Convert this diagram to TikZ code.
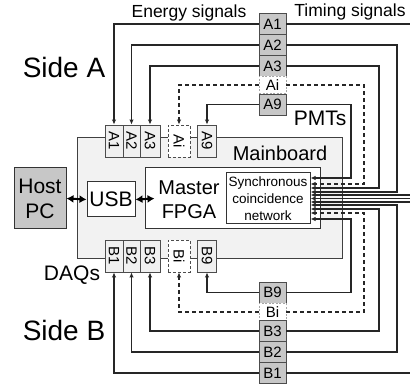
\documentclass[tikz,border=0pt]{standalone}
\usepackage{fontspec}
\setmainfont{Liberation Sans}
\usetikzlibrary{arrows.meta}
\begin{document}
\begin{tikzpicture}[x=1pt,y=-1pt,
  ln/.style={draw=black!85,line width=1.1pt},
  dln/.style={ln,dash pattern=on 4pt off 3pt},
  tip/.style={-{Latex[length=5pt,width=4.5pt]}},
  dbl/.style={draw=black,line width=2pt,{Latex[length=7pt,width=8pt]}-{Latex[length=7pt,width=8pt]}},
  pmt/.style={draw=black!70,fill=black!22,line width=0.9pt,minimum width=27pt,inner sep=0pt,font=\fontsize{15}{15}\selectfont},
  pmtd/.style={pmt,draw=black!35,fill=white,dash pattern=on 2pt off 1.5pt},
  daq/.style={draw=black!70,fill=black!6,line width=0.9pt,minimum height=32pt,inner sep=0pt,font=\fontsize{15}{15}\selectfont},
  daqd/.style={daq,fill=white,dash pattern=on 3pt off 2pt},
  box/.style={draw=black!80,line width=1pt,inner sep=0pt},
  lbl/.style={inner sep=0pt}
]
\fill[white] (0,0) rectangle (410,390);
\clip (0,0) rectangle (410,390);

% mainboard
\node[draw=black!75,fill=black!5,line width=1pt,minimum width=265pt,minimum height=121pt,inner sep=0pt] (mb) at (209.5,198.5) {};
\node[lbl,font=\fontsize{20}{20}\selectfont] (mbl) at (280,153) {Mainboard};

% labels
\node[lbl,font=\fontsize{28}{28}\selectfont] (sideA) at (64,67) {Side A};
\node[lbl,font=\fontsize{28}{28}\selectfont] (sideB) at (64,330) {Side B};
\node[lbl,font=\fontsize{17.5}{17.5}\selectfont] (energy) at (189,13) {Energy signals};
\node[lbl,font=\fontsize{17.5}{17.5}\selectfont] (timing) at (350,12) {Timing signals};
\node[lbl,font=\fontsize{21}{21}\selectfont] (pmts) at (320,118) {PMTs};
\node[lbl,font=\fontsize{21}{21}\selectfont] (daqs) at (72,275) {DAQs};

% PMT boxes side A
\node[pmt,minimum height=21pt] (pA1) at (272.5,24) {A1};
\node[pmt,minimum height=21pt] (pA2) at (272.5,45) {A2};
\node[pmt,minimum height=21pt] (pA3) at (272.5,66) {A3};
\node[pmtd,minimum height=17pt] (pAi) at (272.5,85) {Ai};
\node[pmt,minimum height=21pt] (pA9) at (272.5,104.5) {A9};
% PMT boxes side B
\node[pmt,minimum height=21pt] (pB9) at (272.5,292.5) {B9};
\node[pmtd,minimum height=17pt] (pBi) at (272.5,312) {Bi};
\node[pmt,minimum height=21pt] (pB3) at (272.5,331) {B3};
\node[pmt,minimum height=21pt] (pB2) at (272.5,352) {B2};
\node[pmt,minimum height=21pt] (pB1) at (272.5,373) {B1};

% DAQ boxes
\node[daq,minimum width=18pt] (dA1) at (114,141) {\rotatebox{-90}{A1}};
\node[daq,minimum width=17pt] (dA2) at (131.5,141) {\rotatebox{-90}{A2}};
\node[daq,minimum width=20pt] (dA3) at (150,141) {\rotatebox{-90}{A3}};
\node[daqd,minimum width=22pt] (dAi) at (179,141) {\rotatebox{-90}{Ai}};
\node[daq,minimum width=19pt] (dA9) at (207,141) {\rotatebox{-90}{A9}};
\node[daq,minimum width=18pt] (dB1) at (114,256) {\rotatebox{-90}{B1}};
\node[daq,minimum width=17pt] (dB2) at (131.5,256) {\rotatebox{-90}{B2}};
\node[daq,minimum width=20pt] (dB3) at (150,256) {\rotatebox{-90}{B3}};
\node[daqd,minimum width=22pt] (dBi) at (179,256) {\rotatebox{-90}{Bi}};
\node[daq,minimum width=19pt] (dB9) at (207,256) {\rotatebox{-90}{B9}};

% energy lines
\draw[ln,tip] (pA1.west) -| (dA1.north);
\draw[ln,tip] (pA2.west) -| (dA2.north);
\draw[ln,tip] (pA3.west) -| (dA3.north);
\draw[dln,tip] (pAi.west) -| (dAi.north);
\draw[ln,tip] (pA9.west) -| (dA9.north);
\draw[ln,tip] (pB1.west) -| (dB1.south);
\draw[ln,tip] (pB2.west) -| (dB2.south);
\draw[ln,tip] (pB3.west) -| (dB3.south);
\draw[dln,tip] (pBi.west) -| (dBi.south);
\draw[ln,tip] (pB9.west) -| (dB9.south);

% host, usb, fpga
\node[box,fill=black!22,minimum width=52pt,minimum height=61pt,align=center,font=\fontsize{21}{25}\selectfont] (host) at (40,198.5) {Host\\PC};
\node[box,fill=white,minimum width=48pt,minimum height=35pt,font=\fontsize{21}{21}\selectfont] (usb) at (111,199.5) {USB};
\node[box,fill=white,minimum width=175pt,minimum height=61pt] (fpga) at (232.5,198.5) {};
\node[lbl,align=center,font=\fontsize{20}{24}\selectfont] (fpgal) at (189,200) {Master\\FPGA};
\node[box,fill=white,minimum width=84pt,minimum height=51pt,align=center,font=\fontsize{13.5}{17}\selectfont] (sync) at (268,198.5) {Synchronous\\coincidence\\network};

\draw[dbl] (host.east) -- (usb.west);
\draw[dbl] (usb.east) -- ([xshift=10pt]fpga.west);

% timing lines
\coordinate (ext) at (425,198.5);
\draw[ln,tip] (pA9.east) -| (351,178) -- ([yshift=20.5pt]sync.east);
\draw[dln,tip] (pAi.east) -| (364,184) -- ([yshift=14.5pt]sync.east);
\draw[ln,tip] (pA3.east) -| (379,188) -- ([yshift=10.5pt]sync.east);
\draw[ln,tip] (pA2.east) -| (397,192) -- ([yshift=6.5pt]sync.east);
\draw[ln,tip] (pA1.east) -| (425,195) -- ([yshift=3.5pt]sync.east);
\draw[ln,tip] (ext) -- (sync.east);
\draw[ln,tip] (pB1.east) -| (425,202) -- ([yshift=-3.5pt]sync.east);
\draw[ln,tip] (pB2.east) -| (397,205) -- ([yshift=-6.5pt]sync.east);
\draw[ln,tip] (pB3.east) -| (379,209) -- ([yshift=-10.5pt]sync.east);
\draw[dln,tip] (pBi.east) -| (364,213) -- ([yshift=-14.5pt]sync.east);
\draw[ln,tip] (pB9.east) -| (351,219) -- ([yshift=-20.5pt]sync.east);
\end{tikzpicture}
\end{document}
